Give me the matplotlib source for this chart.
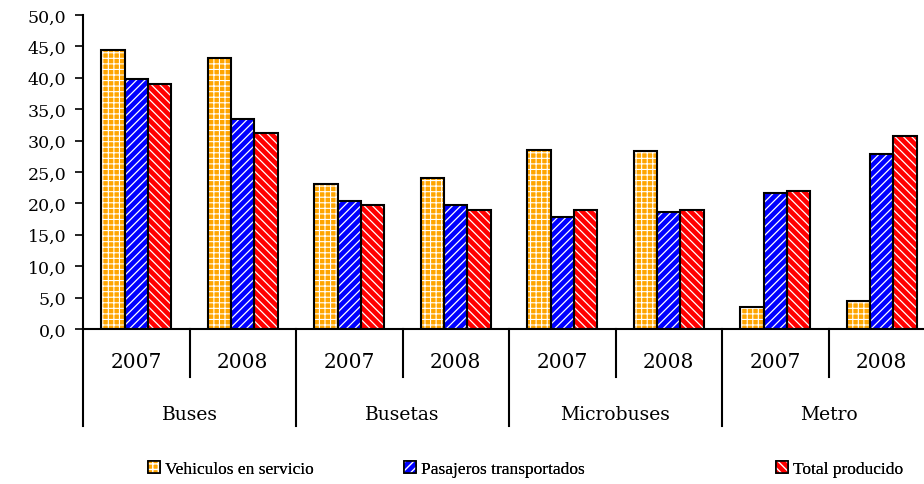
import matplotlib
matplotlib.use("Agg")
import matplotlib.pyplot as plt
import matplotlib.transforms as mtransforms
from matplotlib.patches import Patch
from matplotlib.legend_handler import HandlerTuple
import numpy as np

groups = ["Buses", "Busetas", "Microbuses", "Metro"]
years = ["2007", "2008"]
series_names = ["Vehiculos en servicio", "Pasajeros transportados", "Total producido"]
vehiculos = [44.4, 43.1, 23.1, 24.1, 28.5, 28.3, 3.5, 4.4]
pasajeros = [39.8, 33.4, 20.4, 19.8, 17.9, 18.6, 21.7, 27.8]
total = [39.0, 31.2, 19.8, 19.0, 19.0, 19.0, 22.0, 30.7]
ytick_vals = [0, 5, 10, 15, 20, 25, 30, 35, 40, 45, 50]
ytick_labels = ["0,0", "5,0", "10,0", "15,0", "20,0", "25,0", "30,0", "35,0", "40,0", "45,0", "50,0"]

colors = ["#FFA500", "#0000FF", "#FF0000"]
hatches = ["+++", "////", "\\\\\\\\"]
hatch_lws = [0.8, 0.9, 0.9]

plt.rcParams["hatch.color"] = "white"

W, H = 924, 485
fig = plt.figure(figsize=(W / 100, H / 100), dpi=100)
ax_left, ax_right, ax_top, ax_bot = 83, 935, 16, 330
ax = fig.add_axes([ax_left / W, 1 - ax_bot / H, (ax_right - ax_left) / W, (ax_bot - ax_top) / H])

n = len(vehiculos)
x = np.arange(n)
bw = 0.22
offsets = [-bw, 0, bw]
for vals, col, hat, off, hlw in zip([vehiculos, pasajeros, total], colors, hatches, offsets, hatch_lws):
    with plt.rc_context({"hatch.linewidth": hlw}):
        bars = ax.bar(x + off, vals, width=bw, color=col, hatch=hat, edgecolor="white", linewidth=0, zorder=2)
        for b in bars:
            if hasattr(b, "set_hatch_linewidth"):
                b.set_hatch_linewidth(hlw)
    ax.bar(x + off, vals, width=bw, fill=False, edgecolor="black", linewidth=1.5, zorder=3)

ax.set_xlim(-0.5, n - 0.5)
ax.set_ylim(0, 50)
ax.set_yticks(ytick_vals)
ax.set_yticklabels(ytick_labels, family="DejaVu Serif", fontsize=12.5)
ax.tick_params(axis="y", length=6, width=1.2, direction="out", pad=6)
ax.set_xticks([])
for s in ["top", "right"]:
    ax.spines[s].set_visible(False)
ax.spines["left"].set_linewidth(1.5)
ax.spines["bottom"].set_linewidth(1.5)

trans = mtransforms.blended_transform_factory(ax.transData, ax.transAxes)
ax_h = ax_bot - ax_top
short_y = -(378 - ax_bot) / ax_h
long_y = -(427 - ax_bot) / ax_h
year_y = -(363 - ax_bot) / ax_h
group_y = -(415 - ax_bot) / ax_h

labels_year = [years[i % 2] for i in range(n)]
for i, lab in enumerate(labels_year):
    ax.text(i, year_y, lab, transform=trans, ha="center", va="center",
            family="DejaVu Serif", fontsize=14.5)
for gi, g in enumerate(groups):
    ax.text(2 * gi + 0.5, group_y, g, transform=trans, ha="center", va="center",
            family="DejaVu Serif", fontsize=13.5)

for i in range(n + 1):
    xb = i - 0.5
    yb = long_y if i % 2 == 0 else short_y
    ax.plot([xb, xb], [0, yb], transform=trans, color="black", lw=1.5, clip_on=False, zorder=4)

# Legends
leg_x = [148, 404, 776]
for name, col, hat, lx, hlw in zip(series_names, colors, hatches, leg_x, hatch_lws):
    with plt.rc_context({"hatch.linewidth": hlw}):
        hp = Patch(facecolor=col, hatch=hat, edgecolor="white", linewidth=0)
    h = (hp, Patch(fill=False, edgecolor="black", linewidth=1.2))
    leg = fig.legend([h], [name], handler_map={tuple: HandlerTuple(ndivide=1, pad=0)},
                     loc="center left", bbox_to_anchor=(lx / W, 1 - 470 / H),
                     frameon=False, handlelength=0.7, handleheight=0.7, handletextpad=0.3,
                     borderaxespad=0, borderpad=0,
                     prop={"family": "Liberation Serif", "size": 12.5})
    fig.add_artist(leg)

fig.savefig("out.png", dpi=100)
